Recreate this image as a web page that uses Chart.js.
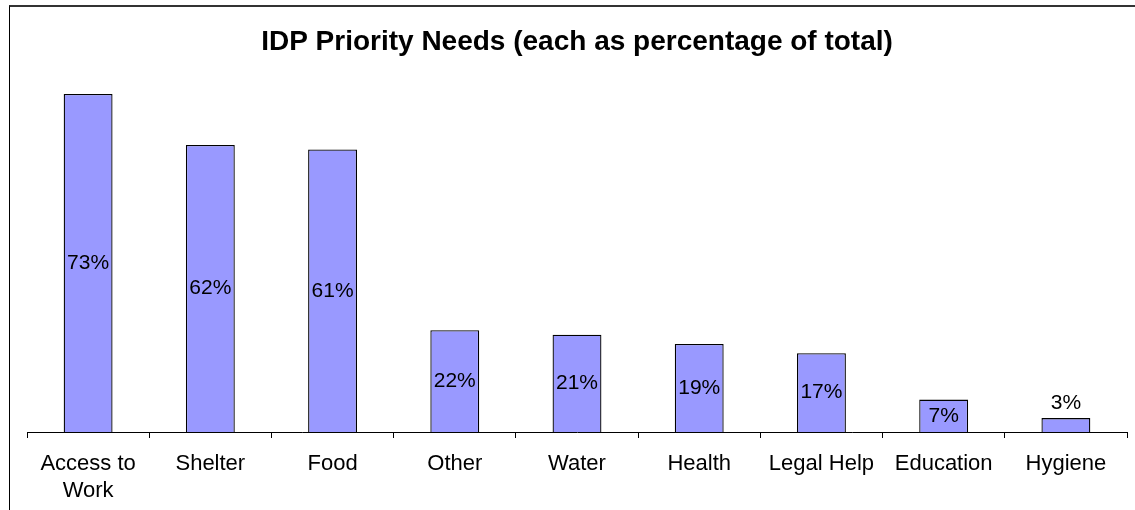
<!DOCTYPE html>
<html>
<head>
<meta charset="utf-8">
<script src="https://cdn.jsdelivr.net/npm/chart.js@4/dist/chart.umd.min.js"></script>
<style>
  html, body { margin: 0; padding: 0; background: #fff; }
  #wrap { position: relative; width: 1135px; height: 510px; overflow: hidden; }
  #frame { position: absolute; left: 9px; top: 5px; right: -5px; bottom: -5px;
           border-left: 1px solid #000; border-top: 2px solid #333; pointer-events: none; }
  canvas { position: absolute; left: 0; top: 0; }
</style>
</head>
<body>
<div id="wrap">
  <canvas id="needsChart" width="1135" height="510"></canvas>
  <div id="frame"></div>
</div>
<script>
const categories = [['Access to', 'Work'], 'Shelter', 'Food', 'Other', 'Water', 'Health', 'Legal Help', 'Education', 'Hygiene'];
const shares = [73, 62, 61, 22, 21, 19, 17, 7, 3];
const yMax = 80;

const FONT = '"Liberation Sans", Arial, sans-serif';

// percent labels: centred in the bar, above it when the bar is too short
const barLabels = {
    id: 'barLabels',
    afterDatasetsDraw(chart) {
        const ctx = chart.ctx;
        const meta = chart.getDatasetMeta(0);
        ctx.save();
        ctx.font = '21px ' + FONT;
        ctx.fillStyle = '#000';
        ctx.textAlign = 'center';
        ctx.textBaseline = 'middle';
        meta.data.forEach((bar, i) => {
            const h = bar.base - bar.y;
            const y = h > 26 ? bar.y + h / 2 : bar.y - 15;
            ctx.fillText(shares[i] + '%', bar.x, y);
        });
        ctx.restore();
    }
};

new Chart(document.getElementById('needsChart'), {
    type: 'bar',
    data: {
        labels: categories,
        datasets: [{
            data: shares,
            backgroundColor: '#9999ff',
            borderColor: '#000',
            borderWidth: 1.3,
            categoryPercentage: 1,
            barPercentage: 0.4
        }]
    },
    options: {
        responsive: false,
        animation: false,
        layout: { padding: { left: 27, right: 8, top: 0, bottom: 0 } },
        plugins: {
            legend: { display: false },
            tooltip: { enabled: false },
            title: {
                display: true,
                text: 'IDP Priority Needs (each as percentage of total)',
                color: '#000',
                font: { family: FONT, size: 28, weight: 'bold', lineHeight: 1.2 },
                padding: { top: 25, bottom: 3 }
            }
        },
        scales: {
            x: {
                grid: { drawOnChartArea: false, drawTicks: true, tickLength: 6, color: '#000', offset: true },
                border: { color: '#000', width: 1 },
                ticks: { color: '#000', font: { family: FONT, size: 22, lineHeight: '27px' }, padding: 12, maxRotation: 0, autoSkip: false },
                afterFit(scale) { scale.height = 78; }
            },
            y: {
                display: false,
                min: 0,
                max: yMax
            }
        }
    },
    plugins: [barLabels]
});
</script>
</body>
</html>
